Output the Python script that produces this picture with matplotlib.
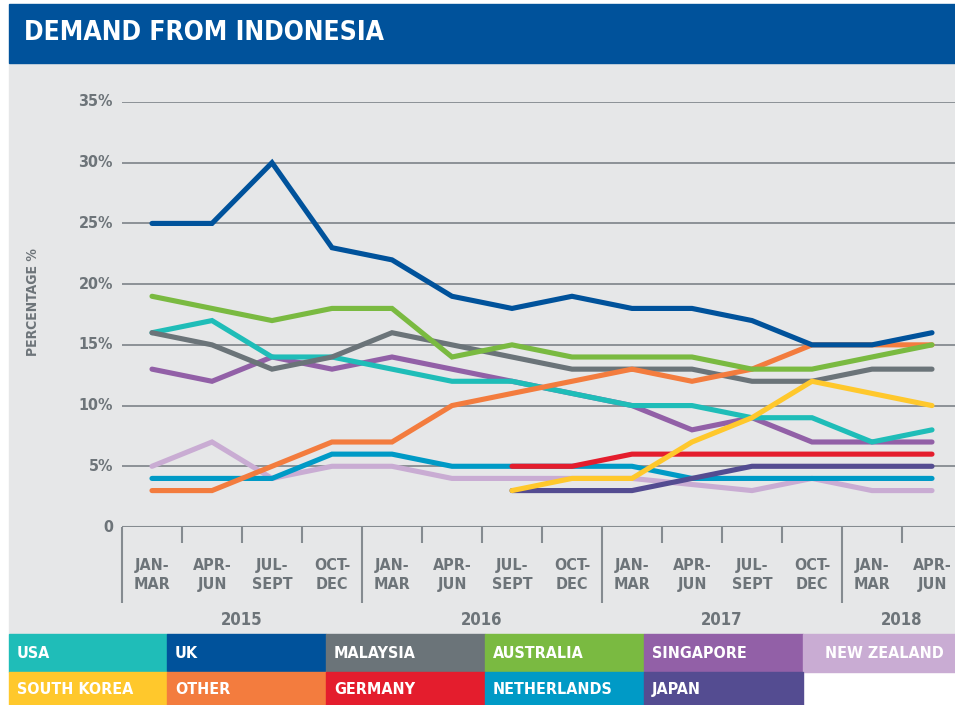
import numpy as np
import matplotlib
matplotlib.use("Agg")
import matplotlib.pyplot as plt
from matplotlib import font_manager as fm
from matplotlib.patches import Rectangle
from matplotlib.transforms import blended_transform_factory

## Data (percentage of demand, quarterly)
quarters = ["JAN-\nMAR", "APR-\nJUN", "JUL-\nSEPT", "OCT-\nDEC"] * 3 + ["JAN-\nMAR", "APR-\nJUN"]
years = ["2015", "2016", "2017", "2018"]
year_groups = [[0, 1, 2, 3], [4, 5, 6, 7], [8, 9, 10, 11], [12, 13]]
nan = np.nan

usa = [16, 17, 14, 14, 13, 12, 12, 11, 10, 10, 9, 9, 7, 8]
uk = [25, 25, 30, 23, 22, 19, 18, 19, 18, 18, 17, 15, 15, 16]
malaysia = [16, 15, 13, 14, 16, 15, 14, 13, 13, 13, 12, 12, 13, 13]
australia = [19, 18, 17, 18, 18, 14, 15, 14, 14, 14, 13, 13, 14, 15]
singapore = [13, 12, 14, 13, 14, 13, 12, 11, 10, 8, 9, 7, 7, 7]
new_zealand = [5, 7, 4, 5, 5, 4, 4, 4, 4, 3.5, 3, 4, 3, 3]
south_korea = [nan, nan, nan, nan, nan, nan, 3, 4, 4, 7, 9, 12, 11, 10]
other = [3, 3, 5, 7, 7, 10, 11, 12, 13, 12, 13, 15, 15, 15]
germany = [nan, nan, nan, nan, nan, nan, 5, 5, 6, 6, 6, 6, 6, 6]
netherlands = [4, 4, 4, 6, 6, 5, 5, 5, 5, 4, 4, 4, 4, 4]
japan = [nan, nan, nan, nan, nan, nan, 3, 3, 3, 4, 5, 5, 5, 5]

colors = {
    "USA": "#1fbdb8", "UK": "#00529b", "MALAYSIA": "#6b7479",
    "AUSTRALIA": "#7aba41", "SINGAPORE": "#9260a7", "NEW ZEALAND": "#c9acd3",
    "SOUTH KOREA": "#ffc82c", "OTHER": "#f37c3e", "GERMANY": "#e41d2d",
    "NETHERLANDS": "#009ac6", "JAPAN": "#544c91",
}
series = {
    "USA": usa, "UK": uk, "MALAYSIA": malaysia, "AUSTRALIA": australia,
    "SINGAPORE": singapore, "NEW ZEALAND": new_zealand, "SOUTH KOREA": south_korea,
    "OTHER": other, "GERMANY": germany, "NETHERLANDS": netherlands, "JAPAN": japan,
}
legend_rows = [["USA", "UK", "MALAYSIA", "AUSTRALIA", "SINGAPORE", "NEW ZEALAND"],
               ["SOUTH KOREA", "OTHER", "GERMANY", "NETHERLANDS", "JAPAN"]]
draw_order = ["NEW ZEALAND", "NETHERLANDS", "JAPAN", "GERMANY", "SINGAPORE", "USA",
              "MALAYSIA", "OTHER", "AUSTRALIA", "SOUTH KOREA", "UK"]

W, H = 955, 705
text_gray = "#6d7479"
grid_gray = "#858b90"
title_blue = "#00529b"
panel_gray = "#e6e7e8"

## pick a condensed bold font if one is installed
font_path = None
for pattern in ["LiberationSansNarrow-Bold.", "DejaVuSansCondensed-Bold.",
                "RobotoCondensed-Bold", "Condensed-Bold", "Narrow-Bold"]:
    hits = [f.fname for f in fm.fontManager.ttflist if pattern in f.fname.split("/")[-1]]
    if hits:
        font_path = hits[0]
        break


def font(size):
    if font_path:
        return fm.FontProperties(fname=font_path, size=size)
    return fm.FontProperties(family="DejaVu Sans", weight="bold", size=size * 0.88)


def fx(px):
    return px / W


def fy(py):
    return 1 - py / H


fig = plt.figure(figsize=(W / 100, H / 100), dpi=100)
fig.patch.set_facecolor("white")

# background panel and title bar
fig.patches.append(Rectangle((fx(9), fy(634)), fx(W - 9), (634 - 63) / H,
                             transform=fig.transFigure, color=panel_gray, zorder=-2))
fig.patches.append(Rectangle((fx(9), fy(63)), fx(W - 9), (63 - 4) / H,
                             transform=fig.transFigure, color=title_blue, zorder=-2))
fig.text(fx(24), fy(33), "DEMAND FROM INDONESIA", color="white",
         fontproperties=font(19), va="center", ha="left")

# plot area
x0, step = 152, 60
ax = fig.add_axes([fx(122), fy(527), fx(W - 122), (527 - 102) / H])
ax.set_facecolor("none")
ax.set_xlim(-0.5, -0.5 + (W - 122) / step)
ax.set_ylim(0, 35)
for s in ax.spines.values():
    s.set_visible(False)
ax.set_xticks([])
ax.set_yticks([])

for v in range(5, 40, 5):
    ax.axhline(v, color=grid_gray, lw=1.3, zorder=1)
ax.axhline(0, color=grid_gray, lw=1.5, zorder=1)

for v in range(0, 40, 5):
    lab = "0" if v == 0 else f"{v}%"
    ax.text(-0.65, v, lab, ha="right", va="center", fontproperties=font(11.5),
            color=text_gray)

ax.text(-1.98, 18.5, "PERCENTAGE %", rotation=90, ha="center", va="center",
        fontproperties=font(10), color=text_gray)

# x ticks below the axis
tr = blended_transform_factory(ax.transData, ax.transAxes)
ax_h = 527 - 102
for i in range(len(quarters)):
    edge = i - 0.5
    long_tick = i % 4 == 0
    length = 76 if long_tick else 16
    ax.plot([edge, edge], [0, -length / ax_h], color=grid_gray, lw=1.5,
            transform=tr, clip_on=False, solid_capstyle="butt")
for i, q in enumerate(quarters):
    ax.text(i, -48 / ax_h, q, transform=tr, ha="center", va="center",
            fontproperties=font(11.5), color=text_gray, linespacing=1.3)
for yr, grp in zip(years, year_groups):
    ax.text(np.mean(grp), -93 / ax_h, yr, transform=tr, ha="center", va="center",
            fontproperties=font(12), color=text_gray)

# lines
xs = np.arange(len(quarters))
for k, name in enumerate(draw_order):
    ax.plot(xs, series[name], color=colors[name], lw=3.7,
            solid_capstyle="round", solid_joinstyle="miter", zorder=3 + k)

# legend boxes
box_edges = [9, 167, 326, 485, 644, 803, 955]
row_edges = [634, 672, 705]
for r, row in enumerate(legend_rows):
    for c, name in enumerate(row):
        left, right = box_edges[c], box_edges[c + 1]
        top, bottom = row_edges[r], row_edges[r + 1]
        fig.patches.append(Rectangle((fx(left), fy(bottom)), fx(right - left),
                                     (bottom - top) / H, transform=fig.transFigure,
                                     color=colors[name], zorder=-2))
        if name == "NEW ZEALAND":
            tx, ha = (left + right) / 2 + 5, "center"
        else:
            tx, ha = left + 8, "left"
        fig.text(fx(tx), fy((top + bottom) / 2 + 1), name, color="white",
                 fontproperties=font(11.5), ha=ha, va="center")

fig.savefig("out.png", dpi=100)
